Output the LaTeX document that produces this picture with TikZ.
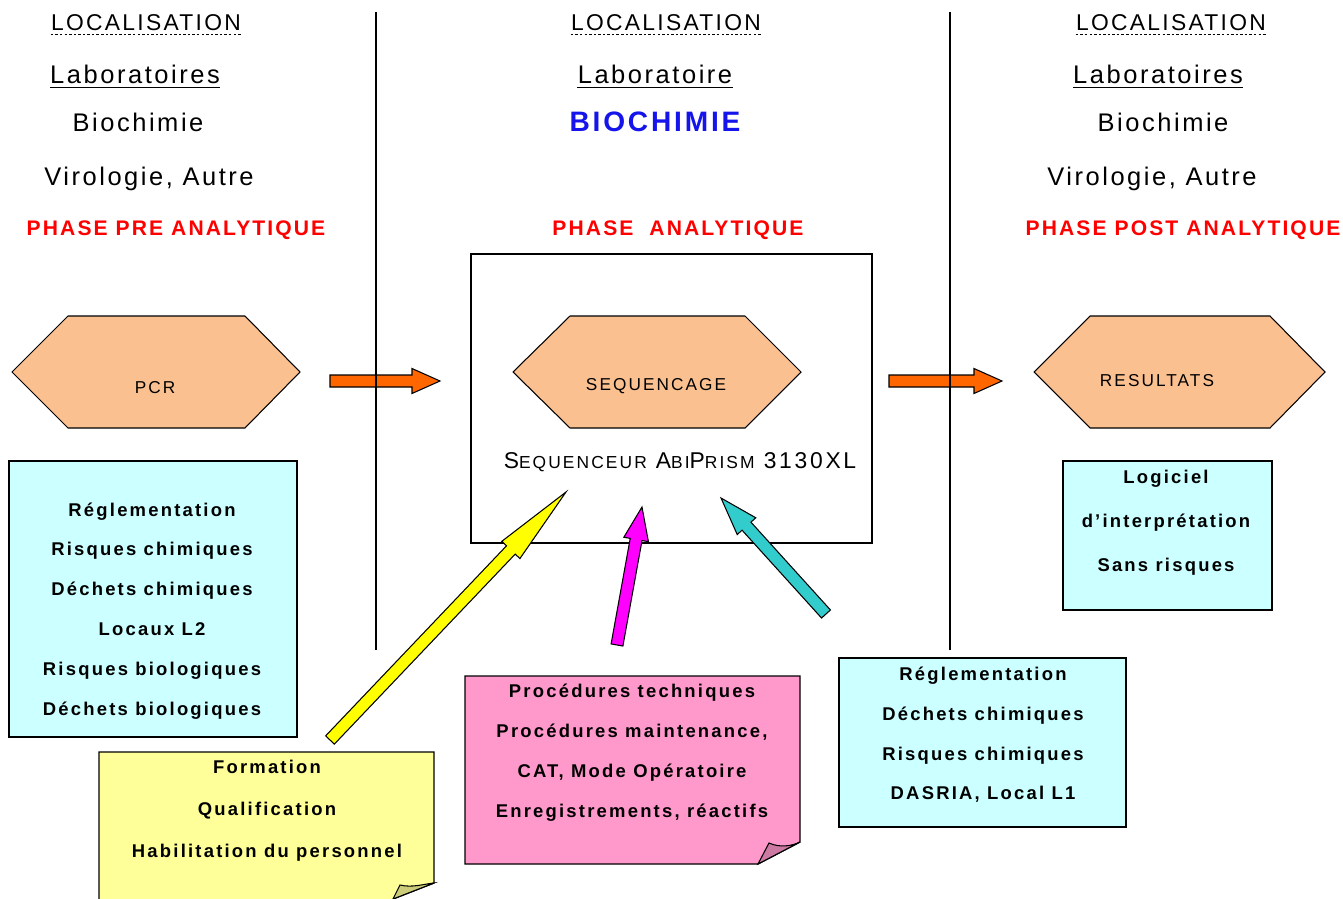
\documentclass[tikz,border=0pt]{standalone}
\usepackage{fontspec}
\setmainfont{Liberation Sans}
\newfontfamily\hdfont{Liberation Sans}[LetterSpace=10]
\newfontfamily\boxfont{Liberation Sans}[LetterSpace=12]
\usetikzlibrary{calc}
\definecolor{peach}{RGB}{250,192,144}
\definecolor{palecyan}{RGB}{204,255,255}
\definecolor{paleyellow}{RGB}{255,255,153}
\definecolor{notepink}{RGB}{255,153,204}
\definecolor{foldpink}{RGB}{204,122,163}
\definecolor{foldyellow}{RGB}{204,204,122}
\definecolor{arroworange}{RGB}{255,102,0}
\definecolor{arrowyellow}{RGB}{255,255,0}
\definecolor{arrowmagenta}{RGB}{255,0,255}
\definecolor{arrowteal}{RGB}{51,204,204}
\definecolor{labblue}{RGB}{20,20,235}
\definecolor{phasered}{RGB}{255,0,0}
\newcommand{\fatarrow}[4][0.66cm]{%
  \coordinate (fa-base) at ($(#4)!#1!(#3)$);
  \filldraw[fill=#2, line width=0.6pt, line join=miter]
    ($(#3)!0.12cm!90:(#4)$) -- ($(fa-base)!0.12cm!90:(#4)$)
    -- ($(fa-base)!0.25cm!90:(#4)$) -- (#4)
    -- ($(fa-base)!0.25cm!-90:(#4)$) -- ($(fa-base)!0.12cm!-90:(#4)$)
    -- ($(#3)!0.12cm!-90:(#4)$) -- cycle;}
\tikzset{
  loc/.style={font=\hdfont\fontsize{13}{15}\selectfont, inner sep=0pt, anchor=base},
  head/.style={font=\hdfont\fontsize{14.5}{17}\selectfont, inner sep=0pt, anchor=base},
  phase/.style={font=\hdfont\bfseries\fontsize{12}{14}\selectfont, text=phasered, inner sep=0pt, anchor=base},
  hexa/.style={draw, fill=peach, line width=0.6pt},
  hextext/.style={font=\boxfont\fontsize{9.8}{11}\selectfont, inner sep=0pt},
  infobox/.style={draw, fill=palecyan, line width=0.8pt, inner sep=0pt},
  boxtext/.style={font=\boxfont\bfseries\fontsize{10.5}{#1}\selectfont, align=center, inner sep=0pt},
  boxtext/.default=22.7
}
\begin{document}
\begin{tikzpicture}[x=0.02cm, y=-0.02cm]
\useasboundingbox (0,0) rectangle (1343,899);

\node[loc] (loc1) at (146,31) {LOCALISATION};
\node[loc] (loc2) at (666,31) {LOCALISATION};
\node[loc] (loc3) at (1171,31) {LOCALISATION};
\foreach \n in {loc1,loc2,loc3}
  \draw[dash pattern=on 1.4pt off 1.2pt] ([yshift=-2pt]\n.base west) -- ([yshift=-2pt]\n.base east);

\node[head] (lab1) at (135,83) {Laboratoires};
\node[head] (lab2) at (655,83) {Laboratoire};
\node[head] (lab3) at (1158,83) {Laboratoires};
\foreach \n in {lab1,lab2,lab3}
  \draw[line width=0.6pt] ([yshift=-2.4pt]\n.base west) -- ([yshift=-2.4pt]\n.base east);

\node[head] (bio1) at (138,131) {Biochimie};
\node[head, font=\hdfont\bfseries\fontsize{16}{19}\selectfont, text=labblue] (bio2) at (655,131) {BIOCHIMIE};
\node[head] (bio3) at (1163,131) {Biochimie};
\node[head] (vir1) at (149,185) {Virologie, Autre};
\node[head] (vir3) at (1152,185) {Virologie, Autre};

\node[phase] (ph1) at (176,235) {PHASE PRE ANALYTIQUE};
\node[phase] (ph2) at (678,235) {PHASE\ \ ANALYTIQUE};
\node[phase] (ph3) at (1183,235) {PHASE POST ANALYTIQUE};

\node[draw, line width=0.8pt, minimum width=8.02cm, minimum height=5.78cm] (seqbox) at (671.5,398.5) {};

\draw[hexa] (12,372) -- (68,316) -- (245,316) -- (300,372) -- (245,428) -- (68,428) -- cycle;
\draw[hexa] (513,372) -- (570,316) -- (745,316) -- (801,372) -- (745,428) -- (570,428) -- cycle;
\draw[hexa] (1034,372) -- (1090,316) -- (1270,316) -- (1325,372) -- (1270,428) -- (1090,428) -- cycle;
\node[hextext] (pcr) at (155,388) {PCR};
\node[hextext] (seq) at (656,386) {SEQUENCAGE};
\node[hextext] (res) at (1157,381) {RESULTATS};

\node[font=\boxfont\fontsize{13}{15}\selectfont, inner sep=0pt] (abi) at (680,462)
  {S{\fontsize{9.9}{11}\selectfont EQUENCEUR} A{\fontsize{9.9}{11}\selectfont BI}P{\fontsize{9.9}{11}\selectfont RISM} 3130XL};

\node[infobox, minimum width=5.76cm, minimum height=5.52cm] (lbox) at (153,599) {};
\node[boxtext] (ltext) at (152,611) {Réglementation\\Risques chimiques\\Déchets chimiques\\Locaux L2\\Risques biologiques\\Déchets biologiques};

\node[infobox, minimum width=4.18cm, minimum height=2.98cm] (logbox) at (1167.5,535.5) {};
\node[boxtext=25] (logtext) at (1166,523) {Logiciel\\d’interprétation\\Sans risques};

\node[infobox, minimum width=5.74cm, minimum height=3.38cm] (rbox) at (982.5,742.5) {};
\node[boxtext=22.6] (rtext) at (983,735) {Réglementation\\Déchets chimiques\\Risques chimiques\\DASRIA, Local L1};

\fill[paleyellow] (99,899) -- (99,752) -- (434,752) -- (434,883) -- (393,899) -- cycle;
\draw[line width=0.8pt] (99,899) -- (99,752) -- (434,752) -- (434,883) -- (393,899);
\filldraw[fill=foldyellow, line width=0.6pt] (393,899) -- (400,885) .. controls (412,888) and (424,884) .. (434,883) -- cycle;
\node[boxtext=23.9] (ytext) at (267,811) {Formation\\Qualification\\Habilitation du personnel};

\filldraw[fill=notepink, line width=0.8pt] (465,676) -- (800,676) -- (800,842) -- (758,864) -- (465,864) -- cycle;
\filldraw[fill=foldpink, line width=0.6pt] (758,864) -- (769,843) .. controls (780,848) and (792,846) .. (800,842) -- cycle;
\node[boxtext=22.8] (ptext) at (632,753) {Procédures techniques\\Procédures maintenance,\\CAT, Mode Opératoire\\Enregistrements, réactifs};

\coordinate (o1s) at (330,381);
\coordinate (o1e) at (440,381);
\coordinate (o2s) at (889,381);
\coordinate (o2e) at (1002,381);
\coordinate (ys) at (330,740);
\coordinate (ye) at (566,492);
\coordinate (ms) at (617,645);
\coordinate (me) at (642,507);
\coordinate (ts) at (826,614);
\coordinate (te) at (721,498);
\fatarrow[0.56cm]{arroworange}{o1s}{o1e}
\fatarrow[0.56cm]{arroworange}{o2s}{o2e}
\fatarrow[1.6cm]{arrowyellow}{ys}{ye}
\fatarrow[0.66cm]{arrowmagenta}{ms}{me}
\fatarrow[0.76cm]{arrowteal}{ts}{te}

\draw[line width=0.8pt] (376,12) -- (376,650);
\draw[line width=0.8pt] (950,12) -- (950,650);
\end{tikzpicture}
\end{document}
